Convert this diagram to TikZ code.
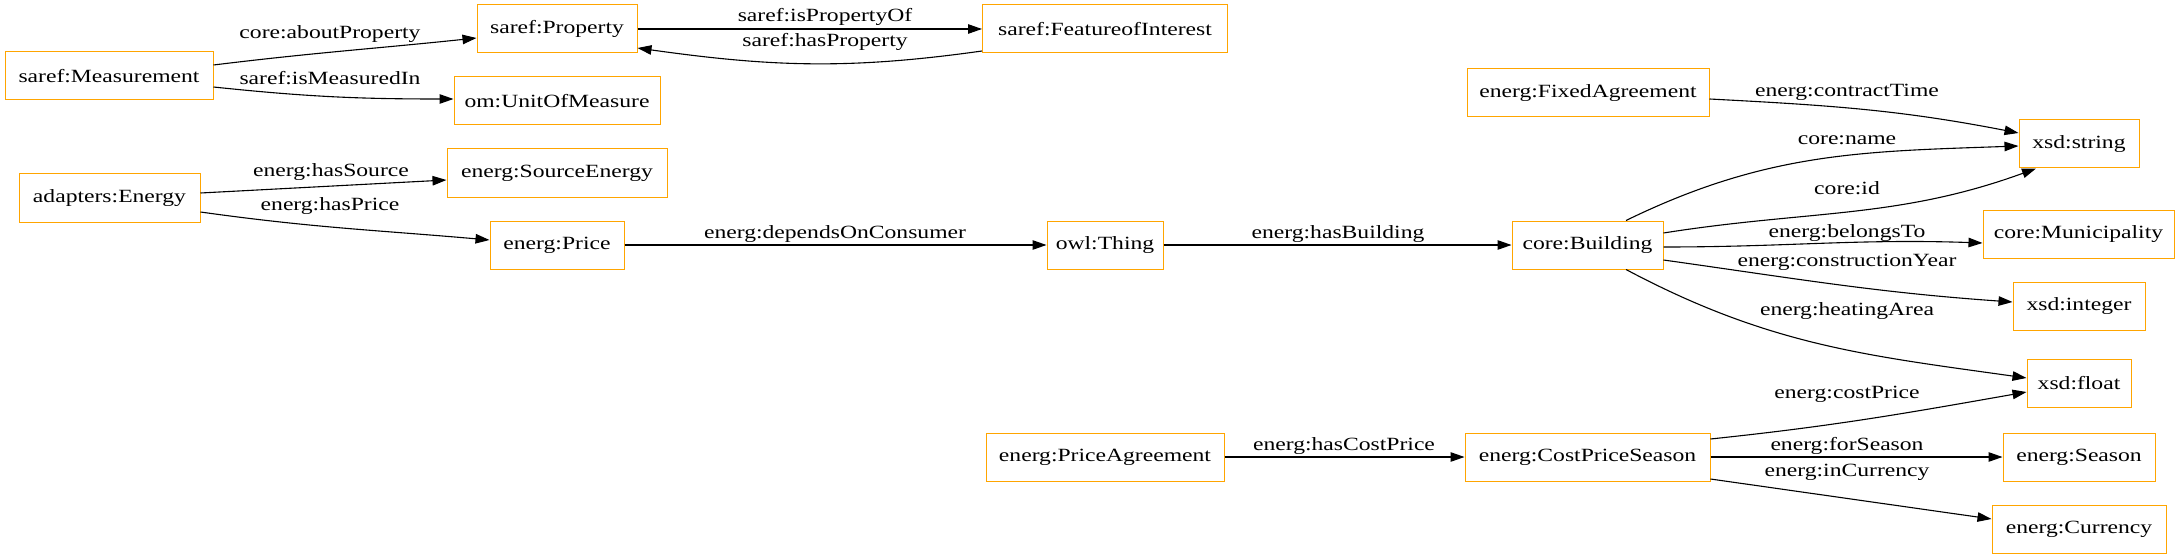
\documentclass[tikz,border=0pt]{standalone}
\usepackage{fontspec}
\setmainfont[FakeStretch=1.265]{Liberation Serif}
\usetikzlibrary{arrows.meta}
\definecolor{gvorange}{HTML}{FFA500}
\begin{document}
\begin{tikzpicture}[x=1pt,y=1pt,
  every node/.style={font=\fontsize{18.67}{22}\selectfont},
  cls/.style={draw=gvorange, line width=1.0pt, inner sep=0pt, minimum height=48pt},
  lbl/.style={inner sep=0pt},
  edge/.style={draw=black, line width=1.1pt, -{Triangle[length=14pt,width=9.5pt]}}]
\useasboundingbox (0,0) rectangle (2180,-559);
% class nodes
\node[cls, minimum width=160pt] (prop) at (557,-29) {saref:Property};
\node[cls, minimum width=208pt] (meas) at (109,-76) {saref:Measurement};
\node[cls, minimum width=206pt] (unit) at (557,-101) {om:UnitOfMeasure};
\node[cls, minimum width=181pt] (ae) at (109.5,-198) {adapters:Energy};
\node[cls, minimum width=220pt] (src) at (557,-173) {energ:SourceEnergy};
\node[cls, minimum width=134pt] (price) at (557,-245) {energ:Price};
\node[cls, minimum width=245pt] (foi) at (1105,-29) {saref:FeatureofInterest};
\node[cls, minimum width=116pt] (thing) at (1105,-245) {owl:Thing};
\node[cls, minimum width=242pt] (fixed) at (1588,-93) {energ:FixedAgreement};
\node[cls, minimum width=120pt] (str) at (2079,-144) {xsd:string};
\node[cls, minimum width=151pt] (bldg) at (1587.5,-245) {core:Building};
\node[cls, minimum width=191pt] (muni) at (2078.5,-234) {core:Municipality};
\node[cls, minimum width=132pt] (int) at (2079,-306) {xsd:integer};
\node[cls, minimum width=104pt] (flt) at (2079,-383) {xsd:float};
\node[cls, minimum width=245pt] (cps) at (1587.5,-457) {energ:CostPriceSeason};
\node[cls, minimum width=152pt] (season) at (2079,-457) {energ:Season};
\node[cls, minimum width=174pt] (cur) at (2079,-529) {energ:Currency};
\node[cls, minimum width=238pt] (pa) at (1105,-457) {energ:PriceAgreement};
% edges
\draw[edge] ([yshift=11pt]meas.east) to[out=7,in=186] ([yshift=-9pt]prop.west);
\draw[edge] ([yshift=-11pt]meas.east) to[out=-6,in=180] ([yshift=2pt]unit.west);
\draw[edge] (prop.east) -- (foi.west);
\draw[edge] ([yshift=-22pt]foi.west) to[out=188,in=-8] ([yshift=-19pt]prop.east);
\draw[edge] ([yshift=5pt]ae.east) -- ([yshift=-7pt]src.west);
\draw[edge] ([yshift=-14pt]ae.east) to[out=-8,in=175] ([yshift=5pt]price.west);
\draw[edge] (price.east) -- (thing.west);
\draw[edge] (thing.east) -- (bldg.west);
\draw[edge] ([yshift=-6pt]fixed.east) to[out=-3,in=169] ([yshift=11pt]str.west);
\draw[edge] ([xshift=38.5pt]bldg.north) to[out=26,in=182] ([yshift=-2pt]str.west);
\draw[edge] ([yshift=12pt]bldg.east) to[out=9,in=200] ([xshift=-43pt]str.south);
\draw[edge] ([yshift=-2pt]bldg.east) to[out=0,in=178] ([yshift=-9pt]muni.west);
\draw[edge] ([yshift=-15pt]bldg.east) to[out=-8,in=176] ([yshift=4pt]int.west);
\draw[edge] ([xshift=38.5pt]bldg.south) to[out=-28,in=172] ([yshift=5pt]flt.west);
\draw[edge] ([yshift=18pt]cps.east) to[out=6,in=190] ([yshift=-9pt]flt.west);
\draw[edge] (cps.east) -- (season.west);
\draw[edge] ([yshift=-22pt]cps.east) -- ([yshift=10pt]cur.west);
\draw[edge] (pa.east) -- (cps.west);
% labels
\node[lbl] (l1) at (330,-34) {core:aboutProperty};
\node[lbl] (l2) at (330,-78) {saref:isMeasuredIn};
\node[lbl] (l3) at (825,-17) {saref:isPropertyOf};
\node[lbl] (l4) at (825,-42) {saref:hasProperty};
\node[lbl] (l5) at (331,-172) {energ:hasSource};
\node[lbl] (l6) at (330,-206) {energ:hasPrice};
\node[lbl] (l7) at (835,-234) {energ:dependsOnConsumer};
\node[lbl] (l8) at (1338,-234) {energ:hasBuilding};
\node[lbl] (l9) at (1847,-92) {energ:contractTime};
\node[lbl] (l10) at (1847,-140) {core:name};
\node[lbl] (l11) at (1847,-188) {core:id};
\node[lbl] (l12) at (1847,-233) {energ:belongsTo};
\node[lbl] (l13) at (1847,-262) {energ:constructionYear};
\node[lbl] (l14) at (1847,-311) {energ:heatingArea};
\node[lbl] (l15) at (1847,-394) {energ:costPrice};
\node[lbl] (l16) at (1847,-446) {energ:forSeason};
\node[lbl] (l17) at (1847,-472) {energ:inCurrency};
\node[lbl] (l18) at (1344,-446) {energ:hasCostPrice};
\end{tikzpicture}
\end{document}
